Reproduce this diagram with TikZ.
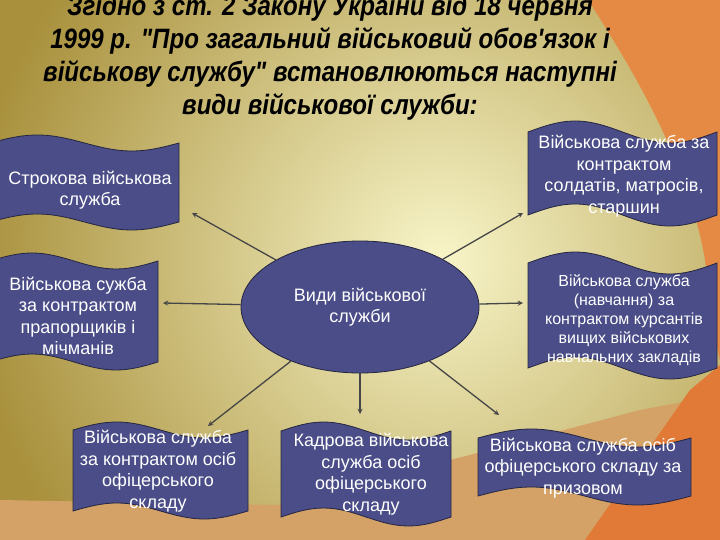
\documentclass[tikz,border=0pt]{standalone}
\usepackage{fontspec}
\setmainfont{Liberation Sans}
\newfontfamily\titlefont[FakeStretch=0.86]{Liberation Sans}
\usepackage{tikz}
\usetikzlibrary{shapes.geometric, arrows}
\definecolor{bannerblue}{RGB}{74,77,135}
\definecolor{bannerline}{RGB}{38,38,66}
\definecolor{glow}{RGB}{248,245,200}
\definecolor{olivegold}{RGB}{168,144,60}
\definecolor{slideorange}{RGB}{228,138,68}
\definecolor{deeporange}{RGB}{224,122,54}
\definecolor{tanband}{RGB}{212,162,102}
\definecolor{arrowgray}{RGB}{70,70,70}
\tikzstyle{arrow} = [line width=1.3pt,->,>=stealth,arrowgray]
\tikzstyle{banner} = [fill=bannerblue,draw=bannerline,line width=0.8pt]
\tikzstyle{bantext} = [inner sep=0pt,align=center,text=white,font=\fontsize{18}{21.5}\selectfont]
% wave banner: x left, x right, y top, y bottom, amplitude
\newcommand{\wavebanner}[5]{%
  \filldraw[banner] (#1,#3) sin ({(#1)+((#2)-(#1))/4},{(#3)-(#5)}) cos ({((#1)+(#2))/2},#3)
    sin ({(#1)+3*((#2)-(#1))/4},{(#3)+(#5)}) cos (#2,#3) -- (#2,#4)
    sin ({(#1)+3*((#2)-(#1))/4},{(#4)+(#5)}) cos ({((#1)+(#2))/2},#4)
    sin ({(#1)+((#2)-(#1))/4},{(#4)-(#5)}) cos (#1,#4) -- cycle;}

\begin{document}
\begin{tikzpicture}[x=1pt,y=-1pt]
\useasboundingbox (0,0) rectangle (720,540);
\begin{scope}
\clip (0,0) rectangle (720,540);

%Background
\fill[olivegold] (0,0) rectangle (720,540);
\shade[inner color=glow,outer color=olivegold] (440,260) circle (470pt);
\fill[tanband] (0,500) -- (280,505) -- (640,410) -- (720,395) -- (720,540) -- (0,540) -- cycle;
\fill[slideorange] (588,0) .. controls (640,80) and (690,170) .. (705,260) .. controls (712,320) and (716,345) .. (720,360) -- (720,0) -- cycle;
\fill[deeporange] (585,540) -- (690,390) -- (720,365) -- (720,540) -- cycle;

%Title
\node[font=\titlefont\bfseries\itshape\fontsize{28}{33}\selectfont,align=center,inner sep=0pt] (title) at (330,58)
  {Згідно з ст. 2 Закону України від 18 червня\\1999 р. "Про загальний військовий обов'язок і\\військову службу" встановлюються наступні\\види військової служби:};

%Banners
\wavebanner{-10}{179}{143}{222}{8}
\wavebanner{-10}{158}{261}{362}{8}
\wavebanner{528}{717}{132}{215}{11}
\wavebanner{528}{717}{263}{368}{11}
\wavebanner{73}{248}{430}{511}{8}
\wavebanner{281}{451}{431}{517}{9}
\wavebanner{478}{691}{438}{496}{9}

%Nodes
\node[ellipse,banner,minimum width=238pt,minimum height=132pt,inner sep=0pt,align=center,text=white,font=\fontsize{18}{21.5}\selectfont] (vydy) at (360,307) {Види військової\\служби};
\node[bantext] (strokova) at (90,190) {Строкова військова\\служба};
\node[bantext] (praporshch) at (78,316) {Військова сужба\\за контрактом\\прапорщиків і\\мічманів};
\node[bantext] (soldaty) at (624,176) {Військова служба за\\контрактом\\солдатів, матросів,\\старшин};
\node[bantext,font=\fontsize{16}{19}\selectfont] (kursanty) at (624,320) {Військова служба\\(навчання) за\\контрактом курсантів\\вищих військових\\навчальних закладів};
\node[bantext] (ofitsery) at (158,471) {Військова служба\\за контрактом осіб\\офіцерського\\складу};
\node[bantext] (kadrova) at (371,474) {Кадрова військова\\служба осіб\\офіцерського\\складу};
\node[bantext] (pryzov) at (583,468) {Військова служба осіб\\офіцерського складу за\\призовом};

\coordinate (strokovaTip) at (192,213);
\coordinate (praporshchTip) at (163,303);
\coordinate (soldatyTip) at (523,213);
\coordinate (kursantyTip) at (523,303);
\coordinate (ofitseryTip) at (208,426);
\coordinate (kadrovaTip) at (360,414);
\coordinate (pryzovTip) at (499,415);

%Lines
\draw[arrow] (vydy) -- (strokovaTip);
\draw[arrow] (vydy) -- (praporshchTip);
\draw[arrow] (vydy) -- (soldatyTip);
\draw[arrow] (vydy) -- (kursantyTip);
\draw[arrow] (vydy) -- (ofitseryTip);
\draw[arrow] (vydy) -- (kadrovaTip);
\draw[arrow] (vydy) -- (pryzovTip);
\end{scope}
\end{tikzpicture}
\end{document}
